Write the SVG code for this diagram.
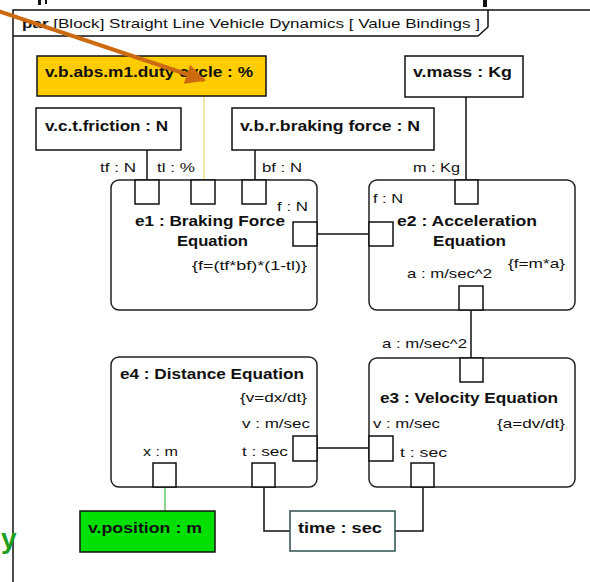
<svg xmlns="http://www.w3.org/2000/svg" width="590" height="582" viewBox="0 0 590 582">
<defs>
<style>
.t{font-family:"Liberation Sans",Arial,sans-serif;font-size:13.5px;fill:#111}
.b{font-family:"Liberation Sans",Arial,sans-serif;font-size:15px;font-weight:bold;fill:#111}
.box{fill:#fff;stroke:#111;stroke-width:1.5}
.blk{fill:#fff;stroke:#222;stroke-width:1.5}
.port{fill:#fff;stroke:#111;stroke-width:1.5}
.c{fill:none;stroke:#111;stroke-width:1.5}
</style>
<marker id="ah" viewBox="0 0 10 10" refX="9" refY="5" markerWidth="5.5" markerHeight="5" orient="auto" markerUnits="strokeWidth">
<path d="M0,0 L10,5 L0,10 z" fill="#CC6A10"/>
</marker>
</defs>
<rect width="590" height="582" fill="#fff"/>
<g id="fragments">
<rect x="38" y="0" width="3" height="5" fill="#111"/>
<rect x="45" y="0" width="2" height="4" fill="#111"/>
<rect x="483" y="0" width="4" height="7" fill="#111"/>
</g>
<g id="frame">
<path d="M13,582 V10 H590" class="c"/>
<path d="M13,36 H478 L488,27 V10" class="c"/>
<text class="t" x="22" y="28" textLength="458" lengthAdjust="spacingAndGlyphs"><tspan font-weight="bold">par</tspan> [Block] Straight Line Vehicle Dynamics [ Value Bindings ]</text>
</g>
<g id="connectors">
<line x1="204" y1="96" x2="204" y2="180" stroke="#EEDD88" stroke-width="1.5"/>
<line x1="147" y1="150" x2="147" y2="180" class="c"/>
<line x1="255" y1="150" x2="255" y2="180" class="c"/>
<line x1="466" y1="97" x2="466" y2="180" class="c"/>
<line x1="317" y1="234" x2="369" y2="234" class="c"/>
<line x1="471" y1="310" x2="471" y2="358" class="c"/>
<line x1="317" y1="448" x2="369" y2="448" class="c"/>
<path d="M423,487 V531 H395" class="c"/>
<path d="M264,487 V531 H290" class="c"/>
<line x1="165" y1="487" x2="165" y2="511" stroke="#66CC66" stroke-width="1.5"/>
</g>
<g id="duty">
<rect x="37" y="56" width="229" height="40" fill="#FFCC00" stroke="#111" stroke-width="1.5"/>
<text class="b" x="45" y="77" textLength="208" lengthAdjust="spacingAndGlyphs">v.b.abs.m1.duty cycle : %</text>
</g>
<g id="mass">
<rect x="405" y="56" width="118" height="41" class="box"/>
<text class="b" x="413" y="77" textLength="99" lengthAdjust="spacingAndGlyphs">v.mass : Kg</text>
</g>
<g id="friction">
<rect x="36" y="108" width="145" height="42" class="box"/>
<text class="b" x="45" y="131" textLength="123" lengthAdjust="spacingAndGlyphs">v.c.t.friction : N</text>
</g>
<g id="braking">
<rect x="232" y="108" width="202" height="42" class="box"/>
<text class="b" x="240" y="131" textLength="180" lengthAdjust="spacingAndGlyphs">v.b.r.braking force : N</text>
</g>
<text class="t" x="100" y="172" textLength="36" lengthAdjust="spacingAndGlyphs">tf : N</text>
<text class="t" x="157" y="172" textLength="38" lengthAdjust="spacingAndGlyphs">tl : %</text>
<text class="t" x="262" y="172" textLength="40" lengthAdjust="spacingAndGlyphs">bf : N</text>
<text class="t" x="413" y="172" textLength="47" lengthAdjust="spacingAndGlyphs">m : Kg</text>
<g id="e1">
<rect x="111" y="180" width="206" height="130" rx="8" class="blk"/>
<rect x="135" y="180" width="24" height="24" class="port"/>
<rect x="191" y="180" width="24" height="24" class="port"/>
<rect x="242" y="180" width="24" height="24" class="port"/>
<rect x="293" y="222" width="24" height="24" class="port"/>
<text class="t" x="277" y="211" textLength="31" lengthAdjust="spacingAndGlyphs">f : N</text>
<text class="b" x="135" y="226" textLength="150" lengthAdjust="spacingAndGlyphs">e1 : Braking Force</text>
<text class="b" x="177" y="246" textLength="71" lengthAdjust="spacingAndGlyphs">Equation</text>
<text class="t" x="192" y="270" textLength="115" lengthAdjust="spacingAndGlyphs">{f=(tf*bf)*(1-tl)}</text>
</g>
<g id="e2">
<rect x="369" y="180" width="206" height="130" rx="8" class="blk"/>
<rect x="455" y="180" width="23" height="24" class="port"/>
<rect x="369" y="222" width="24" height="24" class="port"/>
<rect x="459" y="286" width="24" height="24" class="port"/>
<text class="t" x="373" y="203" textLength="30" lengthAdjust="spacingAndGlyphs">f : N</text>
<text class="b" x="397" y="226" textLength="140" lengthAdjust="spacingAndGlyphs">e2 : Acceleration</text>
<text class="b" x="433" y="246" textLength="73" lengthAdjust="spacingAndGlyphs">Equation</text>
<text class="t" x="508" y="268" textLength="57" lengthAdjust="spacingAndGlyphs">{f=m*a}</text>
<text class="t" x="407" y="278" textLength="85" lengthAdjust="spacingAndGlyphs">a : m/sec^2</text>
</g>
<text class="t" x="382" y="348" textLength="85" lengthAdjust="spacingAndGlyphs">a : m/sec^2</text>
<g id="e3">
<rect x="369" y="358" width="206" height="129" rx="8" class="blk"/>
<rect x="460" y="358" width="23" height="24" class="port"/>
<rect x="369" y="436" width="24" height="25" class="port"/>
<rect x="411" y="463" width="23" height="24" class="port"/>
<text class="b" x="380" y="403" textLength="178" lengthAdjust="spacingAndGlyphs">e3 : Velocity Equation</text>
<text class="t" x="373" y="428" textLength="67" lengthAdjust="spacingAndGlyphs">v : m/sec</text>
<text class="t" x="497" y="428" textLength="68" lengthAdjust="spacingAndGlyphs">{a=dv/dt}</text>
<text class="t" x="400" y="457" textLength="47" lengthAdjust="spacingAndGlyphs">t : sec</text>
</g>
<g id="e4">
<rect x="111" y="357" width="206" height="130" rx="8" class="blk"/>
<rect x="293" y="436" width="24" height="25" class="port"/>
<rect x="153" y="463" width="23" height="24" class="port"/>
<rect x="252" y="463" width="23" height="24" class="port"/>
<text class="b" x="120" y="379" textLength="184" lengthAdjust="spacingAndGlyphs">e4 : Distance Equation</text>
<text class="t" x="240" y="402" textLength="67" lengthAdjust="spacingAndGlyphs">{v=dx/dt}</text>
<text class="t" x="242" y="428" textLength="68" lengthAdjust="spacingAndGlyphs">v : m/sec</text>
<text class="t" x="143" y="456" textLength="35" lengthAdjust="spacingAndGlyphs">x : m</text>
<text class="t" x="242" y="456" textLength="46" lengthAdjust="spacingAndGlyphs">t : sec</text>
</g>
<g id="position">
<rect x="80" y="511" width="135" height="41" fill="#00E000" stroke="#111" stroke-width="1.5"/>
<text class="b" x="88" y="533" textLength="114" lengthAdjust="spacingAndGlyphs">v.position : m</text>
</g>
<g id="time">
<rect x="290" y="511" width="105" height="40" fill="#fff" stroke="#2F4F4F" stroke-width="1.5"/>
<text class="b" x="298" y="533" textLength="84" lengthAdjust="spacingAndGlyphs">time : sec</text>
</g>
<g id="annotation">
<line x1="-2" y1="11" x2="204" y2="80" stroke="#CC6A10" stroke-width="4" marker-end="url(#ah)"/>
<text x="1" y="548" font-family="Liberation Sans, Arial, sans-serif" font-size="28" font-weight="bold" fill="#1E9E1E">y</text>
</g>
</svg>
